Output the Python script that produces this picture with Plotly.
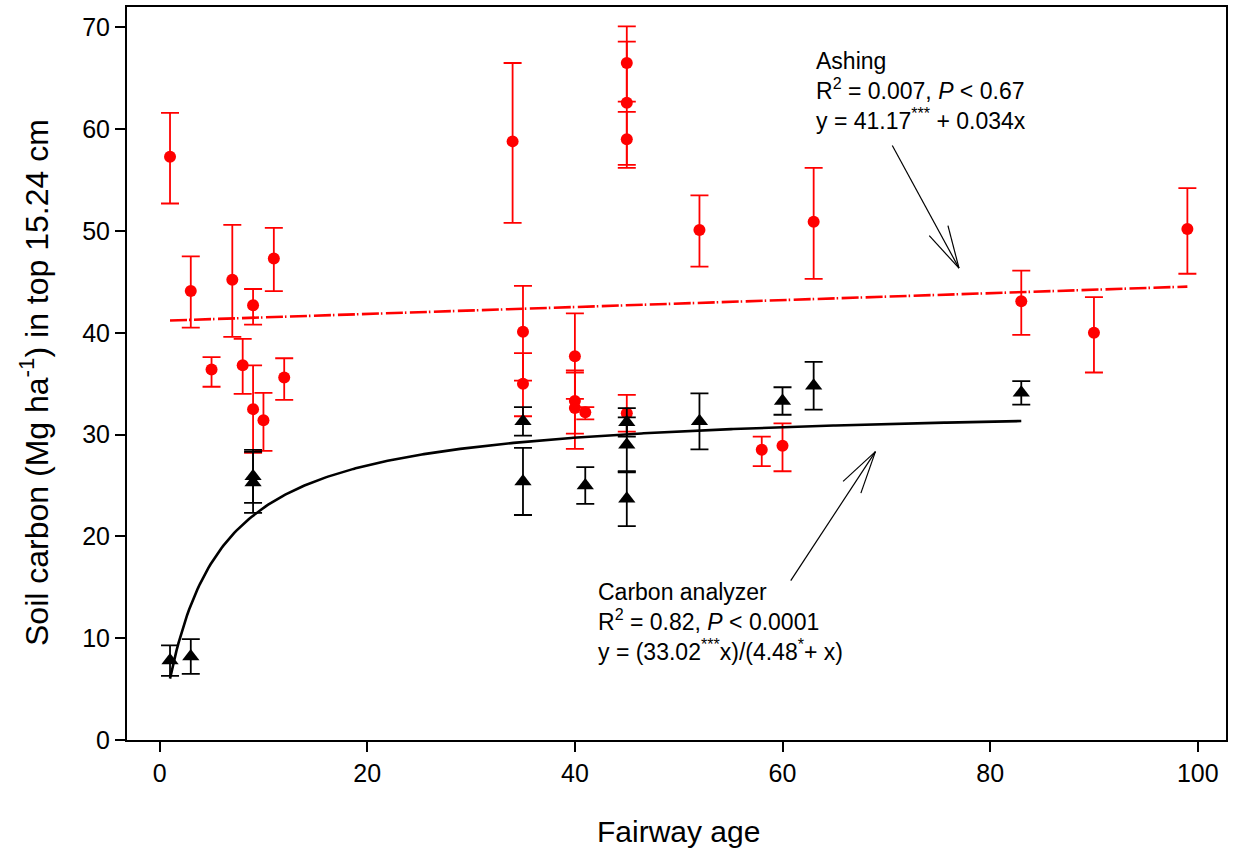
import numpy as np
import plotly.graph_objects as go

# ---------------- data ----------------
ash_age = [1, 3, 5, 7, 8, 9, 9, 10, 11, 12, 34, 35, 35, 40, 40, 40, 41, 45, 45, 45, 45, 52, 58, 60, 63, 83, 90, 99]
ash_c = [57.3, 44.1, 36.4, 45.2, 36.8, 42.7, 32.5, 31.4, 47.3, 35.6, 58.8, 40.1, 35.0, 37.7, 33.3, 32.6, 32.2,
         66.5, 62.6, 59.0, 32.1, 50.1, 28.5, 28.9, 50.9, 43.1, 40.0, 50.2]
ash_err_hi = [4.3, 3.4, 1.2, 5.4, 2.6, 1.6, 4.3, 2.7, 3.0, 1.9, 7.7, 4.5, 3.0, 4.2, 3.0, 3.5, 0.5,
              3.6, 6.0, 2.7, 1.8, 3.4, 1.3, 2.2, 5.3, 3.0, 3.5, 4.0]
ash_err_lo = [4.6, 3.6, 1.7, 5.6, 2.8, 1.9, 4.3, 3.0, 3.2, 2.2, 8.0, 4.8, 3.2, 4.2, 3.2, 4.0, 0.7,
              3.8, 6.1, 2.8, 1.8, 3.6, 1.6, 2.5, 5.6, 3.3, 3.9, 4.4]

ca_age = [1, 3, 9, 9, 35, 35, 41, 45, 45, 45, 52, 60, 63, 83]
ca_c = [7.8, 8.2, 25.9, 25.3, 31.3, 25.4, 25.0, 31.2, 29.0, 23.7, 31.3, 33.3, 34.8, 34.1]
ca_err = [1.5, 1.7, 2.6, 3.0, 1.4, 3.3, 1.8, 1.4, 2.7, 2.7, 2.75, 1.35, 2.35, 1.15]

# fitted models (from equations on the chart)
ash_a, ash_b = 41.17, 0.034
ca_vmax, ca_k = 33.02, 4.48
ash_fit_x = np.linspace(1, 99, 200)
ca_fit_x = np.linspace(1, 83, 400)

FONT = "Liberation Sans, Arial, Helvetica, sans-serif"

fig = go.Figure()

fig.add_trace(go.Scatter(
    x=ash_fit_x, y=ash_a + ash_b * ash_fit_x, mode="lines",
    line=dict(color="#ff0000", width=2.6, dash="17px,2px,1.5px,3.5px"),
    hoverinfo="skip", showlegend=False))

fig.add_trace(go.Scatter(
    x=ash_age, y=ash_c, mode="markers",
    marker=dict(symbol="circle", size=12, color="#ff0000"),
    error_y=dict(type="data", symmetric=False, array=ash_err_hi, arrayminus=ash_err_lo,
                 color="#ff0000", thickness=1.8, width=9),
    showlegend=False))

fig.add_trace(go.Scatter(
    x=ca_fit_x, y=ca_vmax * ca_fit_x / (ca_k + ca_fit_x), mode="lines",
    line=dict(color="black", width=2.6),
    hoverinfo="skip", showlegend=False))

fig.add_trace(go.Scatter(
    x=ca_age, y=ca_c, mode="markers",
    marker=dict(symbol="triangle-up", size=15, color="black"),
    error_y=dict(type="data", array=ca_err, color="black", thickness=1.8, width=9),
    showlegend=False))

# ---------------- arrows (open V heads) ----------------
shapes = []


def arrow(tip_x, tip_y, dx, dy, head=44, ang=14):
    """dx, dy : pixel offset (screen, y down) from tip to tail."""
    base = dict(type="line", xref="x", yref="y", xsizemode="pixel", ysizemode="pixel",
                xanchor=tip_x, yanchor=tip_y, line=dict(color="black", width=1.2))
    shapes.append(dict(base, x0=0, y0=0, x1=dx, y1=-dy))
    u = np.array([dx, -dy], dtype=float)
    u /= np.linalg.norm(u)
    for s in (1, -1):
        a = np.deg2rad(ang * s)
        r = np.array([u[0] * np.cos(a) - u[1] * np.sin(a), u[0] * np.sin(a) + u[1] * np.cos(a)])
        shapes.append(dict(base, x0=0, y0=0, x1=float(r[0] * head), y1=float(r[1] * head)))


arrow(77.0, 46.35, -66.7, -122.7)
arrow(68.95, 28.33, -84.7, 129.0)

# ---------------- text ----------------
ann = []
tf = dict(family=FONT, size=23, color="black")

ash_text = ("Ashing<br>R<sup>2</sup> = 0.007, <i>P</i> &lt; 0.67<br>"
            "y = 41.17<sup>***</sup> + 0.034x")
ca_text = ("Carbon analyzer<br>R<sup>2</sup> = 0.82, <i>P</i> &lt; 0.0001<br>"
           "y = (33.02<sup>***</sup>x)/(4.48<sup>*</sup>+ x)")

ann.append(dict(x=63.0, y=63.75, xref="x", yref="y", text=ash_text, showarrow=False,
                xanchor="left", yanchor="middle", font=tf, align="left"))
ann.append(dict(x=42.05, y=11.57, xref="x", yref="y", text=ca_text, showarrow=False,
                xanchor="left", yanchor="middle", font=tf, align="left"))

ann.append(dict(x=0.502, y=-0.1244, xref="paper", yref="paper", text="Fairway age",
                showarrow=False, xanchor="center", yanchor="middle",
                font=dict(family=FONT, size=30, color="black")))
ann.append(dict(x=-0.0840, y=0.488, xref="paper", yref="paper",
                text="Soil carbon (Mg ha<sup>-1</sup>) in top 15.24 cm", textangle=-90,
                showarrow=False, xanchor="center", yanchor="middle",
                font=dict(family=FONT, size=32, color="black")))

fig.update_layout(
    width=1233, height=854,
    margin=dict(l=127, r=5, t=5, b=114),
    paper_bgcolor="white", plot_bgcolor="white",
    shapes=shapes, annotations=ann,
    font=dict(family=FONT, color="black"),
)

fig.update_xaxes(range=[-3.144, 102.72], tickvals=[0, 20, 40, 60, 80, 100],
                 showgrid=False, zeroline=False, showline=True, linecolor="black", linewidth=2,
                 mirror=True, ticks="outside", ticklen=10, tickwidth=1.5, tickcolor="black",
                 tickfont=dict(family=FONT, size=25, color="black"))
fig.update_yaxes(range=[0, 72], tickvals=[0, 10, 20, 30, 40, 50, 60, 70],
                 showgrid=False, zeroline=False, showline=True, linecolor="black", linewidth=2,
                 mirror=True, ticks="outside", ticklen=10, tickwidth=1.5, tickcolor="black",
                 tickfont=dict(family=FONT, size=25, color="black"))

fig.write_html("out.html")
